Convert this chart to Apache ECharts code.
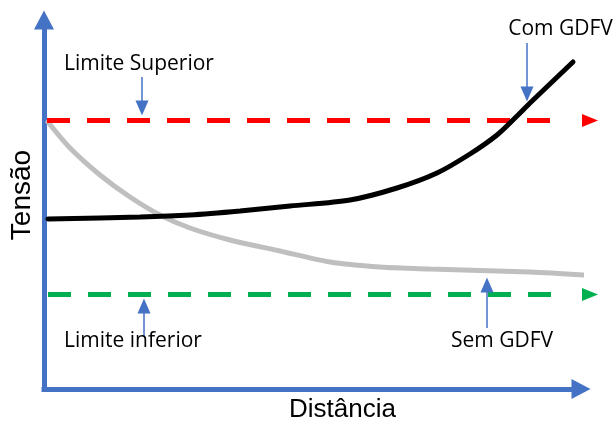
<!DOCTYPE html>
<html>
<head>
<meta charset="utf-8">
<script src="https://cdn.jsdelivr.net/npm/echarts@6/dist/echarts.min.js"></script>
<style>html,body{margin:0;padding:0;background:#fff}#c{width:616px;height:421px}</style>
</head>
<body>
<div id="c"></div>
<script>
// Curves (distance, tension)
const comGDFV = [[4,170],[96,172],[146,174],[196,178],[246,183],[306,189],[353,201],[393,216],[426,235],[453,254],[473,273],[486,286],[529,327]];
const semGDFV = [[4,267],[26,241],[56,214],[86,192],[116,174],[146,161],[186,149],[236,138],[286,127],[336,122],[386,120],[486,117],[541,114]];
// Limits
const limiteSuperior = 268.5;
const limiteInferior = 94.5;
const limitStartX = [3, 4];
const limitEndX = 513;
const limitArrowX = 546;
// Annotation labels: text, x, y
const labelTexts = ['Limite Superior', 'Com GDFV', 'Limite inferior', 'Sem GDFV'];
const labelX = [95, 516.5, 89, 458];
const labelY = [325, 359.5, 48, 47.5];
// Annotation arrows: x, tail y, head-base y, head-centre y, direction
const arrowX = [98, 483, 100, 443];
const arrowTailY = [312, 346, 52, 61];
const arrowBaseY = [288, 302, 76, 97];
const arrowHeadY = [281, 295, 83, 104];
const arrowDown = [true, true, false, false];
const axisTitles = ['Tensão', 'Distância'];

const blue = '#4472C4';
const chart = echarts.init(document.getElementById('c'), null, {renderer: 'canvas'});

const series = [];
// limit lines
[[limiteSuperior, '#FF0000', limitStartX[0]], [limiteInferior, '#00B050', limitStartX[1]]].forEach(([y, col, x0]) => {
  series.push({
    type: 'line', data: [[x0, y], [limitEndX, y]], symbol: 'none', clip: false, silent: true,
    lineStyle: {color: col, width: 5, type: [23, 17]}, z: 3
  });
  series.push({
    type: 'scatter', data: [[limitArrowX, y]], symbol: 'triangle', symbolSize: [13, 16], symbolRotate: -90,
    itemStyle: {color: col, opacity: 1}, clip: false, silent: true, z: 3
  });
});
// curves
series.push({type: 'line', data: semGDFV, smooth: 0.3, symbol: 'none', clip: false,
  lineStyle: {color: '#BFBFBF', width: 5, cap: 'round'}, z: 2});
series.push({type: 'line', data: comGDFV, smooth: 0.3, symbol: 'none', clip: false,
  lineStyle: {color: '#000000', width: 5, cap: 'round'}, z: 4});
// annotation arrows
arrowX.forEach((x, i) => {
  series.push({type: 'line', data: [[x, arrowTailY[i]], [x, arrowBaseY[i]]], symbol: 'none', clip: false,
    lineStyle: {color: blue, width: 1.5}, z: 5});
});
series.push({type: 'scatter', clip: false, symbol: 'triangle', symbolSize: [13, 15], z: 5,
  itemStyle: {color: blue, opacity: 1},
  data: arrowX.map((x, i) => ({value: [x, arrowHeadY[i]], symbolRotate: arrowDown[i] ? 180 : 0}))});
// labels
series.push({type: 'scatter', clip: false, symbolSize: 0, z: 6,
  itemStyle: {opacity: 1},
  data: labelTexts.map((t, i) => ({value: [labelX[i], labelY[i]], name: t})),
  label: {show: true, position: 'inside', formatter: p => p.name, color: '#000', opacity: 1,
    fontFamily: 'Open Sans', fontSize: 21}});

chart.setOption({
  animation: false,
  grid: {left: 44, top: 20, right: 35, bottom: 32},
  xAxis: {type: 'value', min: 0, max: 537,
    axisLine: {show: true, onZero: false, symbol: ['none', 'triangle'], symbolSize: [20, 19],
      lineStyle: {color: blue, width: 5, cap: 'square'}},
    axisTick: {show: false}, axisLabel: {show: false}, splitLine: {show: false}},
  yAxis: {type: 'value', min: 0, max: 369,
    axisLine: {show: true, onZero: false, symbol: ['none', 'triangle'], symbolSize: [20, 19],
      lineStyle: {color: blue, width: 5, cap: 'square'}},
    axisTick: {show: false}, axisLabel: {show: false}, splitLine: {show: false}},
  graphic: [
    {type: 'text', x: 22, y: 195, rotation: Math.PI / 2,
      style: {text: axisTitles[0], fontFamily: 'Liberation Sans', fontSize: 28, fill: '#000', align: 'center', verticalAlign: 'middle'}},
    {type: 'text', x: 342.5, y: 410,
      style: {text: axisTitles[1], fontFamily: 'Liberation Sans', fontSize: 26, fill: '#000', align: 'center', verticalAlign: 'middle'}}
  ],
  series: series
});
</script>
</body>
</html>
